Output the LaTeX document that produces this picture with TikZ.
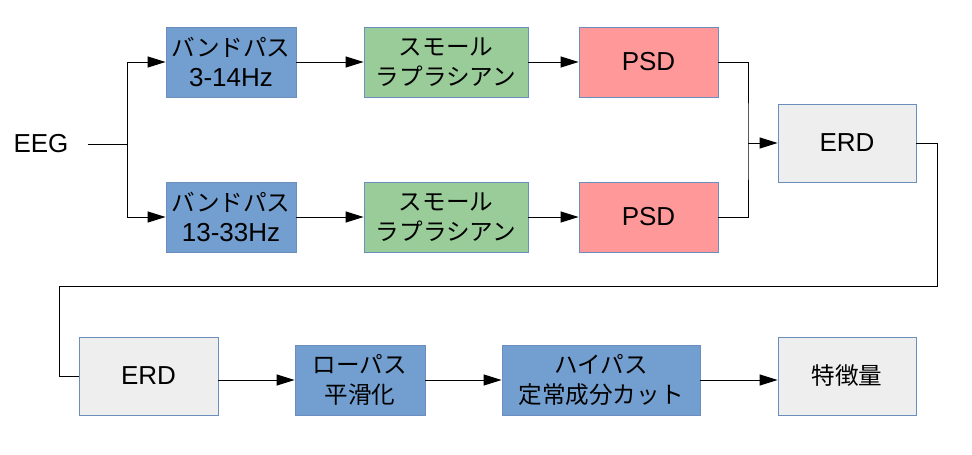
\documentclass[tikz,border=0pt]{standalone}
\usepackage{fontspec}
\setmainfont{Liberation Sans}
\newfontfamily\jp{Noto Sans CJK JP}
\usetikzlibrary{arrows.meta}
\definecolor{bblue}{RGB}{114,159,207}
\definecolor{bgreen}{RGB}{153,204,153}
\definecolor{bred}{RGB}{255,153,153}
\definecolor{bgray}{RGB}{238,238,238}
\definecolor{bline}{RGB}{108,142,191}
\tikzset{
  box/.style={draw=bline, line width=0.8pt, rectangle, inner sep=0pt, align=center,
    font=\fontsize{26}{30}\selectfont},
  bluebox/.style={box, fill=bblue},
  greenbox/.style={box, fill=bgreen},
  redbox/.style={box, fill=bred},
  graybox/.style={box, fill=bgray},
  conn/.style={line width=1pt, black},
  arr/.style={conn, -{Triangle[length=18pt,width=11pt]}},
}
\newcommand{\J}[1]{{\jp\fontsize{23.6}{30}\selectfont #1}}
\begin{document}
\begin{tikzpicture}[x=1pt,y=-1pt]
\useasboundingbox (0,0) rectangle (972,455);
% top rows
\node[font=\fontsize{26}{30}\selectfont, inner xsep=19pt, inner ysep=0pt] (eeg) at (41,144) {EEG};
\node[bluebox, minimum width=130pt, minimum height=70pt] (bp1) at (231,62) {\J{バンドパス}\\3-14Hz};
\node[greenbox, minimum width=164pt, minimum height=70pt] (sl1) at (446,62) {\J{スモール}\\\J{ラプラシアン}};
\node[redbox, minimum width=139pt, minimum height=70pt] (psd1) at (648.5,62) {PSD};
\node[bluebox, minimum width=130pt, minimum height=70pt] (bp2) at (231,217) {\J{バンドパス}\\13-33Hz};
\node[greenbox, minimum width=164pt, minimum height=70pt] (sl2) at (446,217) {\J{スモール}\\\J{ラプラシアン}};
\node[redbox, minimum width=139pt, minimum height=70pt] (psd2) at (648.5,217) {PSD};
\node[graybox, minimum width=138pt, minimum height=78pt] (erd1) at (847,143) {ERD};
% bottom row
\node[graybox, minimum width=139pt, minimum height=78pt] (erd2) at (148.5,376) {ERD};
\node[bluebox, minimum width=130pt, minimum height=70pt] (lp) at (360,380) {\J{ローパス}\\\J{平滑化}};
\node[bluebox, minimum width=198pt, minimum height=70pt] (hp) at (601,380) {\J{ハイパス}\\\J{定常成分カット}};
\node[graybox, minimum width=138pt, minimum height=78pt] (feat) at (847,376) {\J{特徴量}};
% coordinates
\coordinate (split) at (127,144);
\coordinate (merge) at (748,143);
\coordinate (c1) at (937,286);
\coordinate (c2) at (59,286);
% connectors
\draw[conn] (eeg.east) -- (split);
\draw[arr] (split) |- (bp1.west);
\draw[arr] (split) |- (bp2.west);
\draw[arr] (bp1) -- (sl1);
\draw[arr] (bp2) -- (sl2);
\draw[arr] (sl1) -- (psd1);
\draw[arr] (sl2) -- (psd2);
\draw[conn] (psd1.east) -| (merge) |- (psd2.east);
\draw[arr] (merge) -- (erd1.west);
\draw[conn] (erd1.east) -| (c1) -- (c2) |- (erd2.west);
\draw[arr] (erd2.east |- lp.west) -- (lp.west);
\draw[arr] (lp) -- (hp);
\draw[arr] (hp.east) -- (feat.west |- hp.east);
\end{tikzpicture}
\end{document}
